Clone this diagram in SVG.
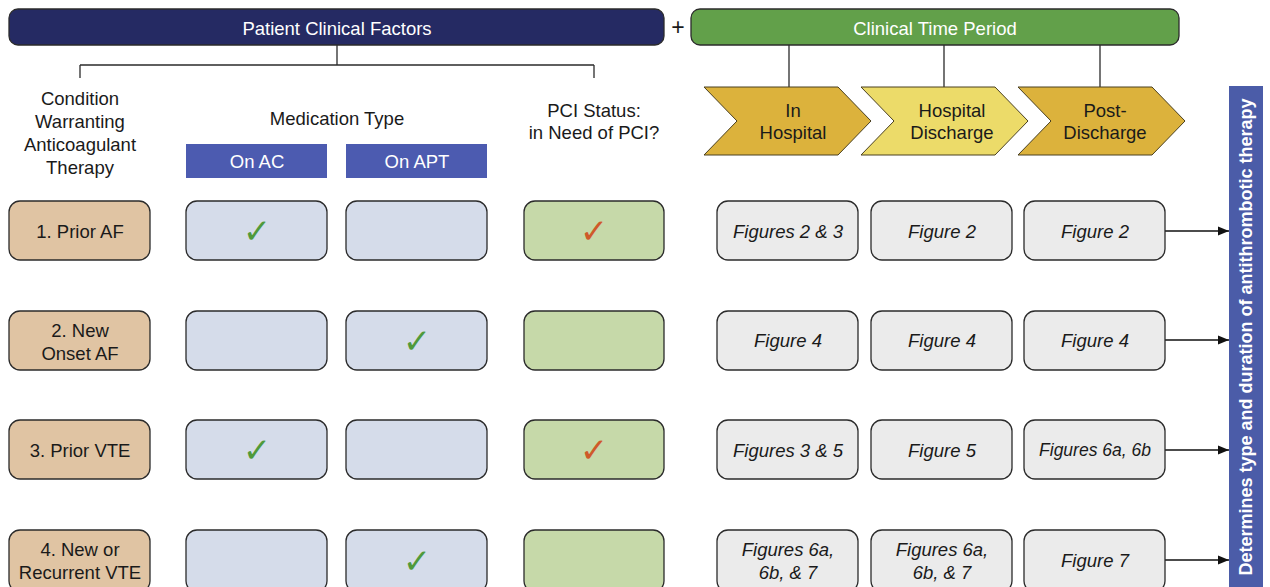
<svg xmlns="http://www.w3.org/2000/svg" width="1270" height="587" viewBox="0 0 1270 587">
<defs>
<style>
text{font-family:"Liberation Sans",Arial,sans-serif;font-size:18.5px;fill:#1a1a1a;text-anchor:middle;dominant-baseline:central}
.w{fill:#ffffff}
.it{font-style:italic}
.box{stroke:#2b2b2b;stroke-width:1.3}
.cond{fill:#e0c4a3}
.med{fill:#d5dcea}
.pci{fill:#c6d9a9}
.fig{fill:#ebebeb}
.chk{font-family:"DejaVu Sans",sans-serif;font-size:34px;font-style:italic}
.g{fill:#4f9a3a}
.o{fill:#cf5a2a}
.ln{stroke:#2b2b2b;stroke-width:1.3;fill:none}
.chev{stroke:#4a4020;stroke-width:1}
</style>
<marker id="ah" viewBox="0 0 10 10" refX="10" refY="5" markerWidth="12" markerHeight="11" markerUnits="userSpaceOnUse" orient="auto"><path d="M0,1 L10,5 L0,9 z" fill="#111"/></marker>
</defs>
<rect width="1270" height="587" fill="#ffffff"/>

<g id="patient-factors">
<rect x="9" y="9" width="655" height="36" rx="9" fill="#252a63" class="box"/>
<text x="337" y="28" class="w">Patient Clinical Factors</text>
</g>
<g id="plus"><text x="678" y="27" style="font-size:23px">+</text></g>
<g id="time-period">
<rect x="691" y="9" width="488" height="36" rx="9" fill="#62a04a" class="box"/>
<text x="935" y="28" class="w">Clinical Time Period</text>
</g>

<g id="connectors">
<path class="ln" d="M337,45 V65 M80,65 H594 M80,65 V78 M594,65 V78"/>
<path class="ln" d="M789,45 V87 M944,45 V87 M1100,45 V87"/>
<g stroke="#111" stroke-width="1.3" marker-end="url(#ah)">
<line x1="1165" y1="231" x2="1229" y2="231"/>
<line x1="1165" y1="340" x2="1229" y2="340"/>
<line x1="1165" y1="450" x2="1229" y2="450"/>
<line x1="1165" y1="560" x2="1229" y2="560"/>
</g>
</g>

<g id="hdr-condition">
<text x="80" y="98">Condition</text>
<text x="80" y="121">Warranting</text>
<text x="80" y="144">Anticoagulant</text>
<text x="80" y="167">Therapy</text>
</g>
<g id="hdr-medication"><text x="337" y="118">Medication Type</text></g>
<g id="hdr-onac"><rect x="186" y="144" width="141" height="34" fill="#4c5bb0"/><text x="257" y="161" class="w">On AC</text></g>
<g id="hdr-onapt"><rect x="346" y="144" width="141" height="34" fill="#4c5bb0"/><text x="417" y="161" class="w">On APT</text></g>
<g id="hdr-pci"><text x="594" y="110">PCI Status:</text><text x="594" y="132">in Need of PCI?</text></g>

<g id="chev-in-hospital">
<path class="chev" fill="#dcb23c" d="M704,87 H838 L871,121 L838,155 H704 L737,121 Z"/>
<text x="793" y="110">In</text><text x="793" y="132">Hospital</text>
</g>
<g id="chev-discharge">
<path class="chev" fill="#ecdb69" d="M861,87 H995 L1028,121 L995,155 H861 L894,121 Z"/>
<text x="952" y="110">Hospital</text><text x="952" y="132">Discharge</text>
</g>
<g id="chev-post">
<path class="chev" fill="#dcb23c" d="M1018,87 H1152 L1185,121 L1152,155 H1018 L1051,121 Z"/>
<text x="1105" y="110">Post-</text><text x="1105" y="132">Discharge</text>
</g>

<g id="outcome-bar">
<rect x="1229" y="86" width="34" height="510" fill="#4b5ca8"/>
<text x="1246" y="337" class="w" transform="rotate(-90 1246 337)" style="font-weight:bold;font-size:18px">Determines type and duration of antithrombotic therapy</text>
</g>

<!-- Row 1 -->
<g id="r1-cond"><rect class="box cond" x="9" y="201" width="141" height="59" rx="11"/><text x="80" y="231">1. Prior AF</text></g>
<g id="r1-ac"><rect class="box med" x="186" y="201" width="141" height="59" rx="11"/><text x="257" y="231" class="chk g">✓</text></g>
<g id="r1-apt"><rect class="box med" x="346" y="201" width="141" height="59" rx="11"/></g>
<g id="r1-pci"><rect class="box pci" x="524" y="201" width="140" height="59" rx="11"/><text x="594" y="231" class="chk o">✓</text></g>
<g id="r1-f1"><rect class="box fig" x="717" y="201" width="141" height="59" rx="11"/><text x="788" y="231" class="it">Figures 2 &amp; 3</text></g>
<g id="r1-f2"><rect class="box fig" x="871" y="201" width="141" height="59" rx="11"/><text x="942" y="231" class="it">Figure 2</text></g>
<g id="r1-f3"><rect class="box fig" x="1024" y="201" width="141" height="59" rx="11"/><text x="1095" y="231" class="it">Figure 2</text></g>

<!-- Row 2 -->
<g id="r2-cond"><rect class="box cond" x="9" y="311" width="141" height="59" rx="11"/><text x="80" y="330">2. New</text><text x="80" y="353">Onset AF</text></g>
<g id="r2-ac"><rect class="box med" x="186" y="311" width="141" height="59" rx="11"/></g>
<g id="r2-apt"><rect class="box med" x="346" y="311" width="141" height="59" rx="11"/><text x="417" y="341" class="chk g">✓</text></g>
<g id="r2-pci"><rect class="box pci" x="524" y="311" width="140" height="59" rx="11"/></g>
<g id="r2-f1"><rect class="box fig" x="717" y="311" width="141" height="59" rx="11"/><text x="788" y="340" class="it">Figure 4</text></g>
<g id="r2-f2"><rect class="box fig" x="871" y="311" width="141" height="59" rx="11"/><text x="942" y="340" class="it">Figure 4</text></g>
<g id="r2-f3"><rect class="box fig" x="1024" y="311" width="141" height="59" rx="11"/><text x="1095" y="340" class="it">Figure 4</text></g>

<!-- Row 3 -->
<g id="r3-cond"><rect class="box cond" x="9" y="420" width="141" height="59" rx="11"/><text x="80" y="450">3. Prior VTE</text></g>
<g id="r3-ac"><rect class="box med" x="186" y="420" width="141" height="59" rx="11"/><text x="257" y="450" class="chk g">✓</text></g>
<g id="r3-apt"><rect class="box med" x="346" y="420" width="141" height="59" rx="11"/></g>
<g id="r3-pci"><rect class="box pci" x="524" y="420" width="140" height="59" rx="11"/><text x="594" y="450" class="chk o">✓</text></g>
<g id="r3-f1"><rect class="box fig" x="717" y="420" width="141" height="59" rx="11"/><text x="788" y="450" class="it">Figures 3 &amp; 5</text></g>
<g id="r3-f2"><rect class="box fig" x="871" y="420" width="141" height="59" rx="11"/><text x="942" y="450" class="it">Figure 5</text></g>
<g id="r3-f3"><rect class="box fig" x="1024" y="420" width="141" height="59" rx="11"/><text x="1095" y="450" class="it" style="font-size:17.5px">Figures 6a, 6b</text></g>

<!-- Row 4 -->
<g id="r4-cond"><rect class="box cond" x="9" y="530" width="141" height="62" rx="11"/><text x="80" y="549">4. New or</text><text x="80" y="572">Recurrent VTE</text></g>
<g id="r4-ac"><rect class="box med" x="186" y="530" width="141" height="62" rx="11"/></g>
<g id="r4-apt"><rect class="box med" x="346" y="530" width="141" height="62" rx="11"/><text x="417" y="561" class="chk g">✓</text></g>
<g id="r4-pci"><rect class="box pci" x="524" y="530" width="140" height="62" rx="11"/></g>
<g id="r4-f1"><rect class="box fig" x="717" y="530" width="141" height="62" rx="11"/><text x="788" y="549" class="it">Figures 6a,</text><text x="788" y="572" class="it">6b, &amp; 7</text></g>
<g id="r4-f2"><rect class="box fig" x="871" y="530" width="141" height="62" rx="11"/><text x="942" y="549" class="it">Figures 6a,</text><text x="942" y="572" class="it">6b, &amp; 7</text></g>
<g id="r4-f3"><rect class="box fig" x="1024" y="530" width="141" height="62" rx="11"/><text x="1095" y="560" class="it">Figure 7</text></g>
</svg>
